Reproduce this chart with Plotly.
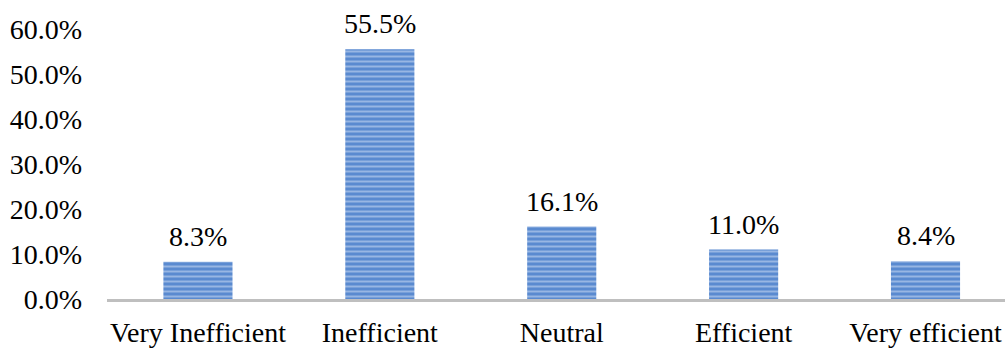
import plotly.graph_objects as go

categories = ["Very Inefficient", "Inefficient", "Neutral", "Efficient", "Very efficient"]
values = [8.3, 55.5, 16.1, 11.0, 8.4]
tick_vals = [0, 10, 20, 30, 40, 50, 60]
tick_text = ["0.0%", "10.0%", "20.0%", "30.0%", "40.0%", "50.0%", "60.0%"]

FONT = "Liberation Serif"

fig = go.Figure()
fig.add_trace(go.Bar(
    x=categories, y=values, width=0.38,
    marker=dict(color="#5a8ad0", line=dict(width=0),
                pattern=dict(shape="-", fgcolor="#d5e2f5", bgcolor="#5a8ad0",
                             size=5, solidity=0.4, fillmode="overlay")),
    showlegend=False,
))
for c, v in zip(categories, values):
    fig.add_annotation(x=c, y=v, text=f"{v:.1f}%", showarrow=False,
                       yanchor="bottom", yshift=8,
                       font=dict(family=FONT, size=28, color="#000"))

fig.update_layout(
    width=1005, height=350,
    margin=dict(l=107, r=0, t=29, b=51),
    plot_bgcolor="white", paper_bgcolor="white",
    font=dict(family=FONT, size=28, color="#000"),
    bargap=0.62,
)
fig.update_xaxes(range=[-0.5, 4.437], showline=True, linecolor="#bfbfbf", linewidth=3,
                 ticks="", showgrid=False, ticklabelstandoff=6)
fig.update_yaxes(range=[0, 60], tickvals=tick_vals, ticktext=tick_text, showgrid=False,
                 zeroline=False, showline=False, ticks="", ticklabelstandoff=24)
fig.write_html("out.html")
